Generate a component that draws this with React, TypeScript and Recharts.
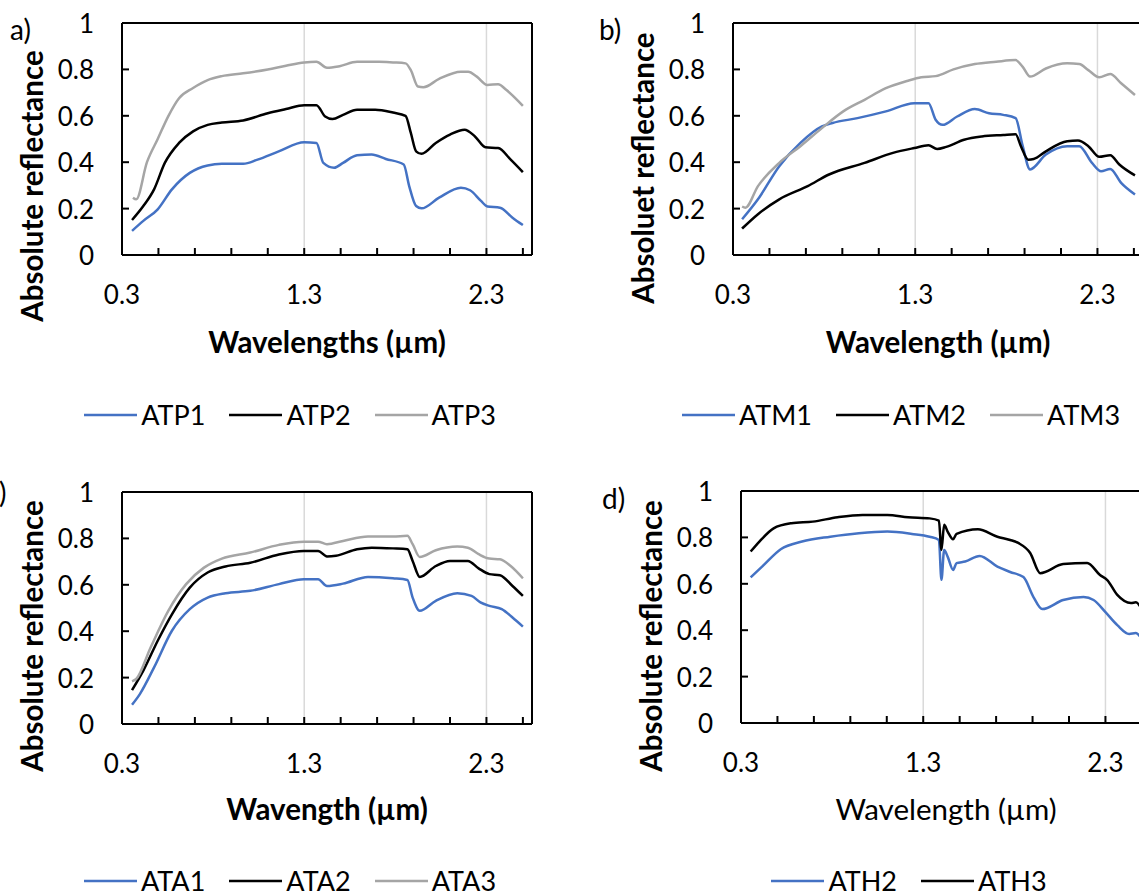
import React from 'react';
import { LineChart, Line, XAxis, YAxis, ReferenceLine, Legend } from 'recharts';

// wavelength (µm), absolute reflectance pairs
const ATP1 = [[0.355,0.104],[0.417,0.147],[0.496,0.197],[0.574,0.283],[0.672,0.354],[0.77,0.386],[0.848,0.393],[0.965,0.393],[1.044,0.411],[1.16,0.447],[1.3,0.486],[1.367,0.483],[1.405,0.397],[1.464,0.376],[1.513,0.397],[1.59,0.43],[1.67,0.433],[1.748,0.414],[1.846,0.39],[1.876,0.297],[1.914,0.211],[1.944,0.201],[2.04,0.247],[2.16,0.29],[2.21,0.279],[2.27,0.233],[2.305,0.209],[2.374,0.204],[2.443,0.161],[2.5,0.129]];
const ATP2 = [[0.355,0.151],[0.417,0.211],[0.476,0.283],[0.535,0.397],[0.613,0.483],[0.69,0.533],[0.77,0.561],[0.848,0.571],[0.965,0.58],[1.1,0.611],[1.2,0.629],[1.3,0.646],[1.367,0.646],[1.415,0.597],[1.455,0.586],[1.513,0.604],[1.59,0.626],[1.69,0.626],[1.787,0.614],[1.856,0.6],[1.885,0.526],[1.914,0.447],[1.944,0.436],[2.022,0.483],[2.1,0.519],[2.18,0.54],[2.237,0.511],[2.295,0.464],[2.364,0.461],[2.433,0.411],[2.5,0.357]];
const ATP3 = [[0.36,0.247],[0.378,0.24],[0.437,0.4],[0.496,0.5],[0.555,0.6],[0.613,0.676],[0.69,0.72],[0.77,0.754],[0.848,0.771],[0.965,0.783],[1.1,0.8],[1.2,0.816],[1.3,0.83],[1.367,0.833],[1.425,0.807],[1.494,0.814],[1.59,0.833],[1.71,0.833],[1.787,0.83],[1.856,0.826],[1.885,0.797],[1.924,0.726],[1.954,0.723],[2.04,0.759],[2.16,0.79],[2.2,0.79],[2.247,0.769],[2.305,0.733],[2.364,0.736],[2.41,0.711],[2.5,0.643]];

const ATM1 = [[0.35,0.154],[0.437,0.24],[0.554,0.383],[0.67,0.483],[0.788,0.554],[0.846,0.569],[0.983,0.59],[1.139,0.619],[1.295,0.654],[1.373,0.654],[1.412,0.583],[1.45,0.561],[1.53,0.597],[1.627,0.629],[1.705,0.611],[1.783,0.604],[1.851,0.59],[1.89,0.469],[1.93,0.369],[2.017,0.433],[2.134,0.469],[2.2,0.469],[2.27,0.397],[2.32,0.361],[2.37,0.371],[2.43,0.311],[2.506,0.261]];
const ATM2 = [[0.35,0.114],[0.437,0.176],[0.554,0.24],[0.71,0.297],[0.827,0.347],[1.022,0.397],[1.178,0.44],[1.295,0.461],[1.373,0.473],[1.42,0.457],[1.47,0.466],[1.568,0.497],[1.666,0.511],[1.783,0.517],[1.851,0.52],[1.88,0.469],[1.92,0.411],[1.95,0.414],[2.017,0.447],[2.134,0.49],[2.193,0.493],[2.25,0.469],[2.31,0.423],[2.37,0.43],[2.42,0.39],[2.506,0.343]];
const ATM3 = [[0.35,0.209],[0.368,0.204],[0.437,0.297],[0.554,0.397],[0.67,0.469],[0.788,0.547],[0.905,0.619],[1.022,0.669],[1.139,0.719],[1.255,0.75],[1.333,0.766],[1.412,0.771],[1.51,0.8],[1.627,0.823],[1.744,0.833],[1.851,0.84],[1.89,0.811],[1.93,0.769],[2.017,0.804],[2.134,0.826],[2.2,0.823],[2.25,0.797],[2.31,0.766],[2.37,0.78],[2.43,0.74],[2.506,0.69]];

const ATA1 = [[0.355,0.083],[0.398,0.129],[0.476,0.244],[0.574,0.402],[0.672,0.495],[0.77,0.545],[0.868,0.564],[1.004,0.574],[1.161,0.603],[1.298,0.624],[1.376,0.624],[1.425,0.595],[1.513,0.605],[1.65,0.634],[1.787,0.628],[1.866,0.621],[1.895,0.545],[1.934,0.488],[2.022,0.531],[2.14,0.564],[2.218,0.552],[2.267,0.524],[2.316,0.509],[2.384,0.495],[2.443,0.459],[2.5,0.42]];
const ATA2 = [[0.355,0.146],[0.417,0.23],[0.496,0.359],[0.574,0.473],[0.672,0.588],[0.77,0.653],[0.868,0.679],[1.004,0.695],[1.161,0.731],[1.298,0.746],[1.376,0.746],[1.425,0.722],[1.474,0.725],[1.59,0.753],[1.67,0.76],[1.787,0.757],[1.866,0.753],[1.895,0.703],[1.934,0.634],[2.022,0.681],[2.1,0.703],[2.198,0.703],[2.257,0.671],[2.316,0.646],[2.374,0.641],[2.443,0.595],[2.5,0.552]];
const ATA3 = [[0.355,0.184],[0.378,0.194],[0.457,0.33],[0.554,0.488],[0.652,0.603],[0.75,0.674],[0.848,0.713],[1.004,0.739],[1.161,0.772],[1.298,0.786],[1.376,0.786],[1.425,0.775],[1.513,0.789],[1.65,0.808],[1.787,0.808],[1.866,0.811],[1.895,0.775],[1.934,0.72],[2.022,0.749],[2.14,0.765],[2.198,0.76],[2.257,0.732],[2.316,0.713],[2.374,0.71],[2.433,0.681],[2.5,0.628]];

const ATH2 = [[0.353,0.628],[0.42,0.677],[0.518,0.749],[0.635,0.782],[0.79,0.803],[0.947,0.818],[1.103,0.825],[1.238,0.815],[1.335,0.803],[1.386,0.789],[1.4,0.617],[1.415,0.746],[1.434,0.717],[1.464,0.66],[1.483,0.689],[1.53,0.696],[1.61,0.72],[1.707,0.674],[1.777,0.651],[1.85,0.629],[1.905,0.543],[1.953,0.491],[2.068,0.53],[2.18,0.543],[2.235,0.53],[2.3,0.478],[2.365,0.422],[2.43,0.384],[2.467,0.388],[2.5,0.36]];
const ATH3 = [[0.353,0.739],[0.401,0.782],[0.479,0.839],[0.577,0.861],[0.694,0.868],[0.83,0.887],[0.967,0.897],[1.103,0.897],[1.218,0.887],[1.335,0.882],[1.386,0.872],[1.4,0.746],[1.415,0.854],[1.434,0.825],[1.464,0.792],[1.483,0.815],[1.6,0.835],[1.707,0.803],[1.777,0.789],[1.824,0.775],[1.887,0.733],[1.942,0.646],[2.068,0.685],[2.2,0.69],[2.27,0.638],[2.31,0.616],[2.365,0.552],[2.44,0.517],[2.467,0.52],[2.5,0.49]];

const X_TICKS = [0.3, 0.5, 0.7, 0.9, 1.1, 1.3, 1.5, 1.7, 1.9, 2.1, 2.3, 2.5];
const X_LABELS = [0.3, 1.3, 2.3];
const Y_TICKS = [0, 0.2, 0.4, 0.6, 0.8, 1];
const GRID_X = [1.3, 2.3];

const BLUE = '#4472C4';
const BLACK = '#000000';
const GRAY = '#A5A5A5';
const FONT = 'Lato, "Open Sans", sans-serif';

// plot area ends up at x 122..532, y 23..255 inside each 580x440 chart
const M = { top: 22, right: 47, bottom: 184, left: 121 };
const W = 580;
const H = 440;
const PLOT_CX = 327;

const toPts = (arr: number[][]) => arr.map(([x, y]) => ({ x, y }));

const panels = [
  {
    left: 0, top: 0, yTitle: 'Absolute reflectance', yTitleY: 186,
    xTitle: 'Wavelengths (µm)', xBold: true, xTitleY: 341, legendTop: 400,
    series: [{ name: 'ATP1', color: BLUE, pts: ATP1 }, { name: 'ATP2', color: BLACK, pts: ATP2 }, { name: 'ATP3', color: GRAY, pts: ATP3 }],
  },
  {
    left: 611, top: 0, yTitle: 'Absoluet reflectance', yTitleY: 168,
    xTitle: 'Wavelength (µm)', xBold: true, xTitleY: 341, legendTop: 400,
    series: [{ name: 'ATM1', color: BLUE, pts: ATM1 }, { name: 'ATM2', color: BLACK, pts: ATM2 }, { name: 'ATM3', color: GRAY, pts: ATM3 }],
  },
  {
    left: 0, top: 469, yTitle: 'Absolute reflectance', yTitleY: 167,
    xTitle: 'Wavength (µm)', xBold: true, xTitleY: 339, legendTop: 397,
    series: [{ name: 'ATA1', color: BLUE, pts: ATA1 }, { name: 'ATA2', color: BLACK, pts: ATA2 }, { name: 'ATA3', color: GRAY, pts: ATA3 }],
  },
  {
    left: 619, top: 468, yTitle: 'Absolute reflectance', yTitleY: 168,
    xTitle: 'Wavelength (µm)', xBold: false, xTitleY: 340, legendTop: 398,
    series: [{ name: 'ATH2', color: BLUE, pts: ATH2 }, { name: 'ATH3', color: BLACK, pts: ATH3 }],
  },
];

const letters = [
  { text: 'a)', left: 10, top: 14 },
  { text: 'b)', left: 599, top: 14 },
  { text: 'c)', left: -14, top: 477 },
  { text: 'd)', left: 602, top: 483 },
];

const XTick = (props: any) => {
  const { x, y, payload } = props;
  const v = payload.value;
  const labeled = X_LABELS.some((l) => Math.abs(l - v) < 1e-6);
  return (
    <g>
      <line x1={x} x2={x} y1={y} y2={y - 7} stroke="#000" strokeWidth={2} />
      {labeled && (
        <text x={x} y={y + 39} textAnchor="middle" dominantBaseline="central" fontSize={26} fontFamily={FONT} fill="#000">
          {v.toFixed(1)}
        </text>
      )}
    </g>
  );
};

const YTick = (props: any) => {
  const { x, y, payload } = props;
  return (
    <g>
      <line x1={x} x2={x + 7} y1={y} y2={y} stroke="#000" strokeWidth={2} />
      <text x={x - 28} y={y} textAnchor="end" dominantBaseline="central" fontSize={26} fontFamily={FONT} fill="#000">
        {String(payload.value)}
      </text>
    </g>
  );
};

const YTickRight = (props: any) => {
  const { x, y } = props;
  return <line x1={x - 7} x2={x} y1={y} y2={y} stroke="#000" strokeWidth={2} />;
};

const LegendRow = (props: any) => {
  const items = props.payload || [];
  return (
    <div style={{ display: 'flex', justifyContent: 'center', alignItems: 'center', gap: 24, fontFamily: FONT, fontSize: 27, lineHeight: '30px' }}>
      {items.map((it: any) => (
        <div key={it.value} style={{ display: 'flex', alignItems: 'center' }}>
          <svg width={53} height={10} style={{ marginRight: 4 }}>
            <line x1={0} x2={53} y1={5} y2={5} stroke={it.color} strokeWidth={2.5} />
          </svg>
          <span>{it.value}</span>
        </div>
      ))}
    </div>
  );
};

function Panel({ cfg }: { cfg: any }) {
  return (
    <div style={{ position: 'absolute', left: cfg.left, top: cfg.top, width: W, height: H }}>
      <LineChart width={W} height={H} margin={M} style={{ overflow: 'visible' }}>
        <XAxis
          dataKey="x"
          type="number"
          domain={[0.3, 2.55]}
          ticks={X_TICKS}
          interval={0}
          allowDataOverflow
          height={1}
          tickSize={0}
          tickMargin={0}
          tickLine={false}
          axisLine={{ stroke: '#000', strokeWidth: 2 }}
          tick={<XTick />}
        />
        <XAxis xAxisId="top" orientation="top" type="number" domain={[0.3, 2.55]} height={1} tick={false} tickLine={false} axisLine={{ stroke: '#000', strokeWidth: 2 }} />
        <YAxis
          type="number"
          domain={[0, 1]}
          ticks={Y_TICKS}
          interval={0}
          width={1}
          tickSize={0}
          tickMargin={0}
          tickLine={false}
          axisLine={{ stroke: '#000', strokeWidth: 2 }}
          tick={<YTick />}
        />
        <YAxis
          yAxisId="r"
          orientation="right"
          type="number"
          domain={[0, 1]}
          ticks={Y_TICKS}
          interval={0}
          width={1}
          tickSize={0}
          tickMargin={0}
          tickLine={false}
          axisLine={{ stroke: '#000', strokeWidth: 2 }}
          tick={<YTickRight />}
        />
        {GRID_X.map((g) => (
          <ReferenceLine key={g} x={g} stroke="#D9D9D9" strokeWidth={1.5} />
        ))}
        {cfg.series.map((s: any) => (
          <Line
            key={s.name}
            data={toPts(s.pts)}
            dataKey="y"
            name={s.name}
            type="monotone"
            stroke={s.color}
            strokeWidth={2.5}
            dot={false}
            activeDot={false}
            isAnimationActive={false}
          />
        ))}
        <Legend
          layout="horizontal"
          verticalAlign="middle"
          align="center"
          wrapperStyle={{ top: cfg.legendTop, left: 0, width: W }}
          content={<LegendRow />}
        />
      </LineChart>
      <svg width={W} height={H} style={{ position: 'absolute', left: 0, top: 0, pointerEvents: 'none' }}>
        <text
          x={31}
          y={cfg.yTitleY}
          transform={`rotate(-90 31 ${cfg.yTitleY})`}
          textAnchor="middle"
          dominantBaseline="central"
          fontSize={29.5}
          fontWeight="bold"
          fontFamily={FONT}
        >
          {cfg.yTitle}
        </text>
        <text
          x={PLOT_CX}
          y={cfg.xTitleY}
          textAnchor="middle"
          dominantBaseline="central"
          fontSize={29.5}
          fontWeight={cfg.xBold ? 'bold' : 'normal'}
          fontFamily={FONT}
        >
          {cfg.xTitle}
        </text>
      </svg>
    </div>
  );
}

export default function App() {
  return (
    <div style={{ position: 'absolute', left: 0, top: 0, width: 1139, height: 894, overflow: 'hidden', background: '#fff', fontFamily: FONT }}>
      {panels.map((p, i) => (
        <Panel key={i} cfg={p} />
      ))}
      {letters.map((l) => (
        <div key={l.text} style={{ position: 'absolute', left: l.left, top: l.top, fontSize: 28, lineHeight: '30px' }}>
          {l.text}
        </div>
      ))}
    </div>
  );
}
